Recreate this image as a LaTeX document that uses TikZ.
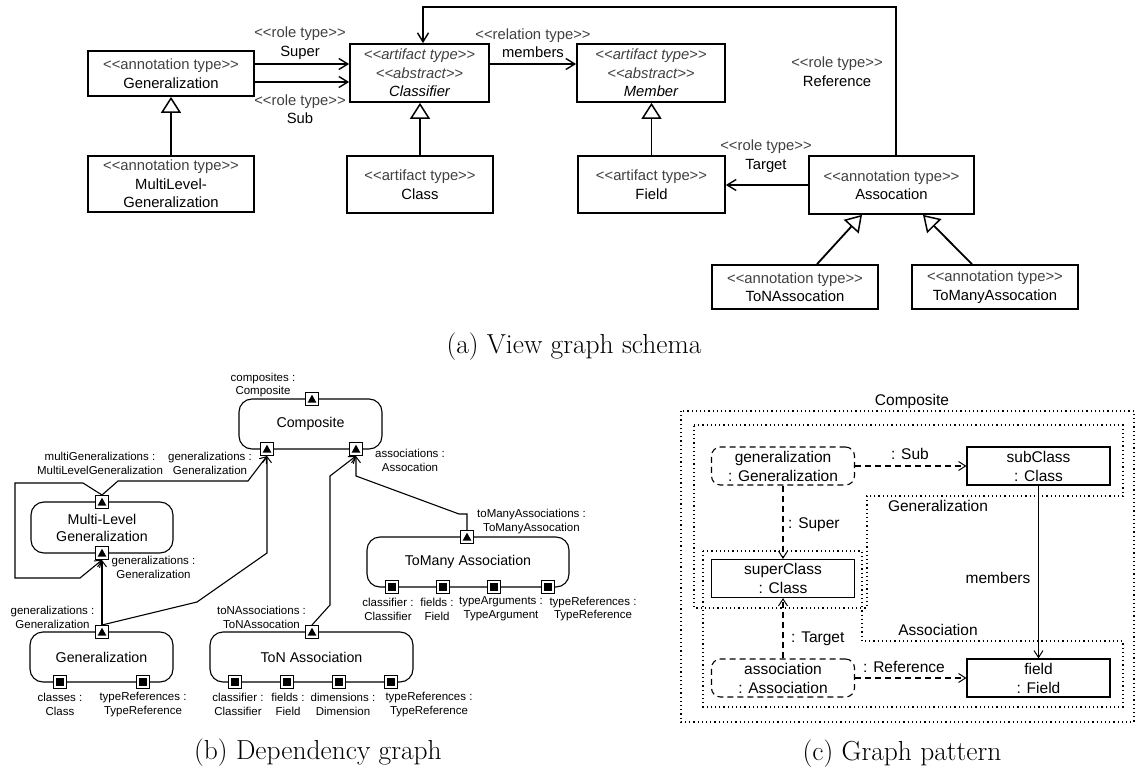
\documentclass[tikz,border=0pt]{standalone}
\usepackage{fontspec}
\newfontfamily\diagfont{Liberation Sans}
\usetikzlibrary{arrows.meta}
\definecolor{stereogray}{gray}{0.25}
% stereotype text: <<...>> kept as two separate angle brackets
\newcommand\stype[1]{{\color{stereogray}<\kern0pt<#1>\kern0pt>}}

\begin{document}
\begin{tikzpicture}[x=1pt,y=-1pt,
  afont/.style={font=\diagfont\fontsize{14.8}{18.5}\selectfont},
  aital/.style={font=\diagfont\fontsize{14.8}{18.5}\selectfont\itshape},
  abox/.style={draw, line width=1.7pt, align=center, inner sep=0pt, afont},
  alabel/.style={align=center, inner sep=0pt, afont},
  specialize/.style={-{Triangle[open, length=16pt, width=20pt, line width=1.5pt]}, line width=1.8pt},
  role/.style={-{Straight Barb[length=9pt, width=11pt, line width=1.4pt]}, line width=1.7pt},
  bfont/.style={font=\diagfont\fontsize{14.2}{17}\selectfont},
  pfont/.style={font=\diagfont\fontsize{11.5}{13.8}\selectfont},
  rnode/.style={draw, line width=1.1pt, rounded corners=13pt, align=center, inner sep=0pt, bfont},
  plabel/.style={align=center, inner sep=0pt, pfont},
  porttri/.style={draw, fill=white, line width=1pt, minimum size=13pt, inner sep=0pt,
    path picture={\fill[black] ([yshift=4.3pt]path picture bounding box.center) -- ++(-4.3pt,-7.8pt) -- ++(8.6pt,0pt) -- cycle;}},
  portsq/.style={draw, fill=white, line width=1pt, minimum size=13pt, inner sep=0pt,
    path picture={\fill[black] ([shift={(-3.8pt,-3.8pt)}]path picture bounding box.center) rectangle ++(7.6pt,7.6pt);}},
  dep/.style={-{Straight Barb[length=6pt, width=9pt, line width=1pt]}, line width=1.1pt},
  cfont/.style={font=\diagfont\fontsize{15.5}{19}\selectfont},
  cbox/.style={draw, line width=1.1pt, minimum width=143pt, minimum height=38pt, align=center, inner sep=0pt, cfont},
  cdash/.style={cbox, rounded corners=9pt, dash pattern=on 6pt off 4pt},
  clabel/.style={inner sep=0pt, cfont},
  region/.style={line width=1.2pt, dash pattern=on 1.2pt off 3pt},
  clink/.style={-{Straight Barb[length=7pt, width=9pt, line width=1pt]}, line width=1.1pt},
  clinkd/.style={clink, dash pattern=on 6pt off 4pt},
  caption/.style={font=\fontsize{27.5}{32}\selectfont, inner sep=0pt}
]
\useasboundingbox (0,0) rectangle (1136,773);

% ---------------- (a) view graph schema ----------------
\node[abox, minimum width=166pt, minimum height=45pt] (agen) at (171,73.5) {\stype{annotation type}\\Generalization};
\node[abox, minimum width=166pt, minimum height=56pt] (amlg) at (171,184) {\stype{annotation type}\\MultiLevel-\\Generalization};
\node[abox, aital, minimum width=139pt, minimum height=58pt] (aclsf) at (419.5,73) {\stype{artifact type}\\\stype{abstract}\\Classifier};
\node[abox, aital, minimum width=148pt, minimum height=58pt] (amem) at (651,73) {\stype{artifact type}\\\stype{abstract}\\Member};
\node[abox, minimum width=146pt, minimum height=57pt] (acls) at (420,184.5) {\stype{artifact type}\\Class};
\node[abox, minimum width=147pt, minimum height=57pt] (afld) at (651.5,184.5) {\stype{artifact type}\\Field};
\node[abox, minimum width=165pt, minimum height=58pt] (aasc) at (891.5,185) {\stype{annotation type}\\Assocation};
\node[abox, minimum width=166pt, minimum height=44pt] (aton) at (795,287) {\stype{annotation type}\\ToNAssocation};
\node[abox, minimum width=166pt, minimum height=44pt] (atom) at (995,287) {\stype{annotation type}\\ToManyAssocation};

% specialisations
\draw[specialize] (amlg.north) -- (agen.south);
\draw[specialize] (acls.north) -- (acls.north |- aclsf.south);
\draw[specialize] (afld.north) -- (afld.north |- amem.south);
\draw[specialize] ([xshift=22pt]aton.north) -- ([xshift=-29.5pt]aasc.south);
\draw[specialize] ([xshift=-23pt]atom.north) -- ([xshift=31.5pt]aasc.south);

% roles and relations
\draw[role] ([yshift=9.5pt]agen.east) -- ([yshift=9.5pt]agen.east -| aclsf.west);
\draw[role] ([yshift=-8.5pt]agen.east) -- ([yshift=-8.5pt]agen.east -| aclsf.west);
\draw[role] ([yshift=9pt]aclsf.east) -- ([yshift=9pt]aclsf.east -| amem.west);
\draw[role] (aasc.west) -- (aasc.west -| afld.east);
\coordinate (refa) at (896,7);
\coordinate (refb) at (423,7);
\draw[role] ([xshift=4.5pt]aasc.north) -- (refa) -- (refb) -- (refb |- aclsf.north);

\node[alabel] (lsuper) at (300,43) {\stype{role type}\\Super};
\node[alabel] (lsub) at (300,109) {\stype{role type}\\Sub};
\node[alabel] (lmembers) at (533,43) {\stype{relation type}\\members};
\node[alabel] (lref) at (837,71.5) {\stype{role type}\\Reference};
\node[alabel] (ltarget) at (766,156) {\stype{role type}\\Target};

\node[caption] (capa) at (574,347) {(a) View graph schema};

% ---------------- (b) dependency graph ----------------
\node[rnode, minimum width=143pt, minimum height=50pt] (bcomp) at (310.5,424) {Composite};
\node[rnode, minimum width=142pt, minimum height=51pt] (bml) at (102,527.5) {Multi-Level\\Generalization};
\node[rnode, minimum width=143pt, minimum height=50pt] (bgen) at (101.5,657) {Generalization};
\node[rnode, minimum width=203pt, minimum height=50pt] (bton) at (311.5,657) {ToN Association};
\node[rnode, minimum width=202pt, minimum height=50pt] (btm) at (468,562) {ToMany Association};

% ports
\node[porttri] (qcomps) at (312,399) {};
\node[porttri] (qcgen) at (267,449) {};
\node[porttri] (qcasc) at (356,449) {};
\node[porttri] (qmlt) at (102,502) {};
\node[porttri] (qmlb) at (102,553) {};
\node[porttri] (qgt) at (102,632) {};
\node[portsq] (qgcls) at (60,682) {};
\node[portsq] (qgtr) at (143,682) {};
\node[porttri] (qtnt) at (312,632) {};
\node[portsq] (qtn1) at (235,682) {};
\node[portsq] (qtn2) at (287,682) {};
\node[portsq] (qtn3) at (339,682) {};
\node[portsq] (qtn4) at (391,682) {};
\node[porttri] (qtmt) at (467,537) {};
\node[portsq] (qtm1) at (392,587) {};
\node[portsq] (qtm2) at (443,587) {};
\node[portsq] (qtm3) at (494,587) {};
\node[portsq] (qtm4) at (548,587) {};

% port labels
\node[plabel] (lcomps) at (263,385) {composites :\\Composite};
\node[plabel] (lcgen) at (210,463) {generalizations :\\Generalization};
\node[plabel] (lcasc) at (410,460.5) {associations :\\Assocation};
\node[plabel] (lmlt) at (100,463) {multiGeneralizations :\\MultiLevelGeneralization};
\node[plabel] (lmlb) at (153.5,567.5) {generalizations :\\Generalization};
\node[plabel] (lgt) at (52.5,617.5) {generalizations :\\Generalization};
\node[plabel] (lgcls) at (60,704.5) {classes :\\Class};
\node[plabel] (lgtr) at (143,704.5) {typeReferences :\\TypeReference};
\node[plabel] (ltnt) at (261.5,617) {toNAssociations :\\ToNAssocation};
\node[plabel] (ltn1) at (238,704.5) {classifier :\\Classifier};
\node[plabel] (ltn2) at (288,704.5) {fields :\\Field};
\node[plabel] (ltn3) at (343,704.5) {dimensions :\\Dimension};
\node[plabel] (ltn4) at (429,704.5) {typeReferences :\\TypeReference};
\node[plabel] (ltmt) at (531.5,521.5) {toManyAssociations :\\ToManyAssocation};
\node[plabel] (ltm1) at (388,609) {classifier :\\Classifier};
\node[plabel] (ltm2) at (437,609) {fields :\\Field};
\node[plabel] (ltm3) at (501,609) {typeArguments :\\TypeArgument};
\node[plabel] (ltm4) at (593,609) {typeReferences :\\TypeReference};

% dependencies
\draw[dep] (qgt.north) -- (qmlb.south);
\draw[dep] (qgt.north) -- (197,602) -- (267,553) -- (qcgen.south);
\draw[dep] (qmlt.north) -- (83,483) -- (15,483) -- (15,578) -- (80,578) -- (qmlb.south);
\draw[dep] (qmlt.north) -- (118,481) -- (248,481) -- (qcgen.south);
\draw[dep] (qtnt.north) -- (330,605) -- (330,476) -- (qcasc.south);
\draw[dep] (qtmt.north) -- (467,514) -- (459,514) -- (356,476) -- (qcasc.south);

\node[caption] (capb) at (318,753) {(b) Dependency graph};

% ---------------- (c) graph pattern ----------------
\draw[region] (681,411) rectangle (1134,722);
\draw[region] (694,425) -- (1123,425) -- (1123,496) -- (867,496) -- (867,608) -- (694,608) -- cycle;
\draw[region] (703,551) -- (862,551) -- (862,641) -- (1123,641) -- (1123,707) -- (703,707) -- cycle;
\node[clabel] (rcomp) at (912,401) {Composite};
\node[clabel] (rgen) at (938,506) {Generalization};
\node[clabel] (rasc) at (938,630) {Association};

\node[cdash] (ggen) at (783,466) {generalization\\: Generalization};
\node[cbox] (gsub) at (1038.5,466) {subClass\\: Class};
\node[cbox] (gsup) at (783,578.5) {superClass\\: Class};
\node[cdash] (gasc) at (783,678) {association\\: Association};
\node[cbox] (gfld) at (1038.5,678) {field\\: Field};

\draw[clinkd] (ggen.east) -- (gsub.west);
\draw[clinkd] (ggen.south) -- (gsup.north);
\draw[clinkd] (gasc.north) -- (gsup.south);
\draw[clinkd] (gasc.east) -- (gfld.west);
\draw[clink] (gsub.south) -- (gfld.north);

\node[clabel] (lsubl) at (910,454) {: Sub};
\node[clabel, anchor=west] (lsupl) at (788,525) {: Super};
\node[clabel, anchor=west] (ltgtl) at (791,639) {: Target};
\node[clabel] (lrefl) at (904,667) {: Reference};
\node[clabel] (lmemb) at (998,578) {members};

\node[caption] (capc) at (902,754) {(c) Graph pattern};
\end{tikzpicture}
\end{document}
